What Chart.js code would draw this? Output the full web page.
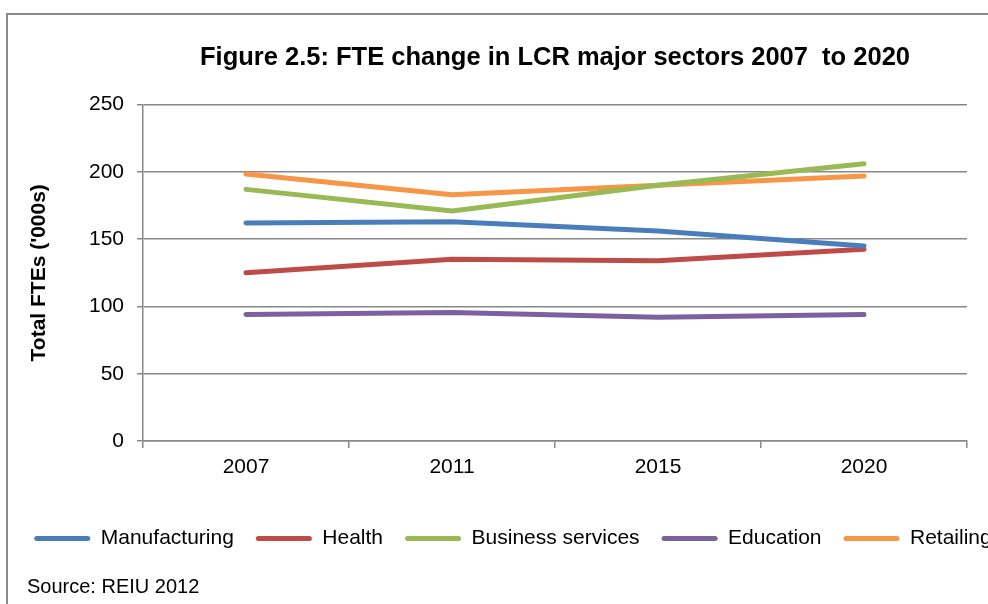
<!DOCTYPE html>
<html lang="en">
<head>
    <meta charset="UTF-8">
    <title>Figure 2.5: FTE change in LCR major sectors 2007 to 2020</title>
    <script src="https://cdn.jsdelivr.net/npm/chart.js"></script>
    <style>
        body { margin: 0; overflow: hidden; background: #fff; font-family: "Liberation Sans", Arial, sans-serif; }
        #frame { position: absolute; left: 6px; top: 13px; width: 1200px; height: 1000px; border: 2px solid #8a8a8a; }
        #wrap { position: absolute; left: 0; top: 0; }
        #source { position: absolute; left: 27px; top: 576px; font-size: 20px; line-height: 20px; color: #000; white-space: nowrap; }
    </style>
</head>
<body>
    <div id="frame"></div>
    <div id="wrap"><canvas id="fteChart" width="1026" height="604"></canvas></div>
    <div id="source">Source: REIU 2012</div>

    <script>
        // values ('000 FTEs)
        const years = ["2007", "2011", "2015", "2020"];
        const manufacturing = [162, 163, 156, 145];
        const health = [125, 135, 134, 142.5];
        const businessServices = [187, 171, 190, 206];
        const education = [94, 95.5, 92, 94];
        const retailing = [198.5, 183, 190, 197];

        const yTicks = [0, 50, 100, 150, 200, 250];

        Chart.defaults.font.family = '"Liberation Sans", Arial, sans-serif';
        Chart.defaults.color = "#000";

        function series(label, data, color) {
            return {
                label: label,
                data: data,
                borderColor: color,
                backgroundColor: color,
                borderWidth: 5,
                borderCapStyle: "round",
                borderJoinStyle: "round",
                pointRadius: 0,
                pointHoverRadius: 0,
                tension: 0,
                fill: false
            };
        }

        const gridColor = "#888888";

        new Chart(document.getElementById("fteChart"), {
            type: "line",
            data: {
                labels: years,
                datasets: [
                    series("Manufacturing", manufacturing, "#4a7ebb"),
                    series("Health", health, "#be4b48"),
                    series("Business services", businessServices, "#98b954"),
                    series("Education", education, "#7d60a0"),
                    series("Retailing", retailing, "#f79646")
                ]
            },
            options: {
                responsive: false,
                animation: false,
                devicePixelRatio: 1,
                layout: { padding: { top: 0, left: 0, right: 0, bottom: 45 } },
                plugins: {
                    tooltip: { enabled: false },
                    title: {
                        display: true,
                        fullSize: false,
                        text: "Figure 2.5: FTE change in LCR major sectors 2007  to 2020",
                        font: { size: 25.5, weight: "bold" },
                        color: "#000",
                        padding: { top: 43, bottom: 31 }
                    },
                    legend: {
                        position: "bottom",
                        align: "center",
                        labels: {
                            boxWidth: 56,
                            boxHeight: 5,
                            useBorderRadius: true,
                            borderRadius: 2.5,
                            padding: 22,
                            font: { size: 21 },
                            color: "#000",
                            generateLabels(chart) {
                                const items = Chart.defaults.plugins.legend.labels.generateLabels(chart);
                                items.forEach(it => { it.lineWidth = 0; it.fillStyle = it.strokeStyle; });
                                return items;
                            }
                        }
                    }
                },
                scales: {
                    x: {
                        offset: true,
                        grid: {
                            offset: true,
                            drawOnChartArea: false,
                            drawTicks: true,
                            tickLength: 7,
                            color: gridColor,
                            lineWidth: 1.5
                        },
                        border: { display: true, color: gridColor, width: 1.5 },
                        ticks: { font: { size: 21 }, padding: 7, color: "#000" },
                        afterFit(scale) { scale.height = 65; }
                    },
                    y: {
                        min: 0,
                        max: 250,
                        afterBuildTicks(scale) { scale.ticks = yTicks.map(v => ({ value: v })); },
                        grid: { color: gridColor, lineWidth: 1.5, tickLength: 6 },
                        border: { display: true, color: gridColor, width: 1.5 },
                        ticks: { font: { size: 21 }, padding: 13, color: "#000" },
                        title: {
                            display: true,
                            text: "Total FTEs ('000s)",
                            font: { size: 21, weight: "bold" },
                            color: "#000",
                            padding: { top: 27, bottom: 0 }
                        },
                        afterFit(scale) { scale.width = 143; }
                    },
                    // empty right-hand box so the plot stops where the reference plot stops
                    spacer: {
                        type: "linear",
                        position: "right",
                        display: true,
                        grid: { display: false },
                        border: { display: false },
                        ticks: { display: false },
                        afterFit(scale) { scale.width = 1026 - 967; }
                    }
                }
            }
        });
    </script>
</body>
</html>
